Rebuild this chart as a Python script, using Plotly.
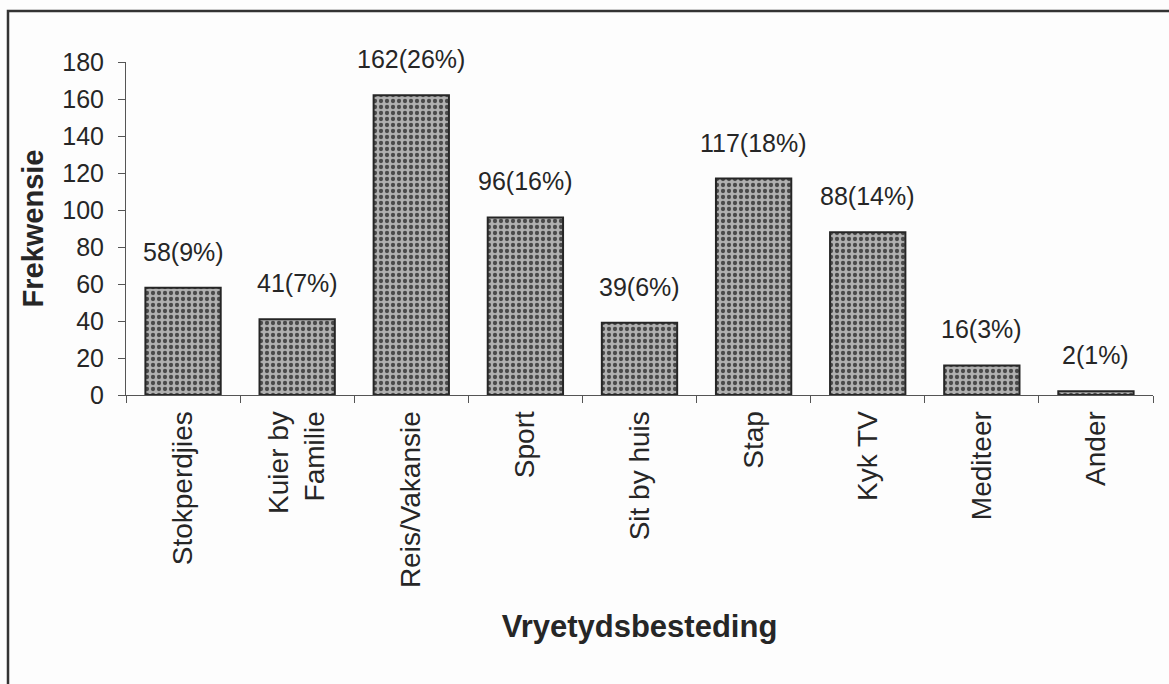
import plotly.graph_objects as go

categories = ["Stokperdjies", "Kuier by<br>Familie", "Reis/Vakansie", "Sport",
              "Sit by huis", "Stap", "Kyk TV", "Mediteer", "Ander"]
frequencies = [58, 41, 162, 96, 39, 117, 88, 16, 2]
percentages = [9, 7, 26, 16, 6, 18, 14, 3, 1]
y_ticks = [0, 20, 40, 60, 80, 100, 120, 140, 160, 180]

W, H = 1169, 684
L, R, T, B = 126, 16, 62, 289
FONT = "Liberation Sans, Arial, sans-serif"
INK = "#262626"

fig = go.Figure()
fig.add_trace(go.Bar(
    x=categories,
    y=frequencies,
    width=0.66,
    marker=dict(
        color="#a0a0a0",
        line=dict(color=INK, width=2),
        pattern=dict(shape=".", fgcolor="#4a4a4a", bgcolor="#b0b0b0",
                     size=6, solidity=0.4, fillmode="replace"),
    ),
    hoverinfo="skip",
))

for c, v, p in zip(categories, frequencies, percentages):
    fig.add_annotation(x=c, y=v, text=f"{v}({p}%)", showarrow=False,
                       yanchor="bottom", yshift=20,
                       font=dict(family=FONT, size=25, color=INK))

# Outer frame (left and top edges; the rest runs off the page)
pw, ph = W - L - R, H - T - B
x_left = (8 - L) / pw
y_top = (H - B - 11) / ph
y_bot = (H - B - (H + 20)) / ph
x_right = (W + 20 - L) / pw
fig.add_shape(type="rect", xref="paper", yref="paper",
              x0=x_left, x1=x_right, y0=y_bot, y1=y_top,
              line=dict(color="#333", width=2.5), layer="below")

fig.update_layout(
    width=W, height=H,
    margin=dict(l=L, r=R, t=T, b=B),
    paper_bgcolor="#fdfdfd",
    plot_bgcolor="rgba(0,0,0,0)",
    showlegend=False,
    font=dict(family=FONT, size=25, color=INK),
)
fig.update_xaxes(
    type="category",
    tickson="boundaries",
    ticks="outside", ticklen=7, tickcolor="#555", tickwidth=1,
    showline=True, linecolor="#555", linewidth=1,
    tickangle=-90, ticklabelstandoff=4,
    tickfont=dict(family=FONT, size=28, color=INK),
    title=dict(text="<b>Vryetydsbesteding</b>", standoff=28,
               font=dict(family=FONT, size=31, color=INK)),
    showgrid=False,
)
fig.update_yaxes(
    range=[0, 180],
    tickvals=y_ticks,
    ticks="outside", ticklen=7, tickcolor="#555", tickwidth=1,
    showline=True, linecolor="#555", linewidth=1,
    ticklabelstandoff=9,
    tickfont=dict(family=FONT, size=25, color=INK),
    title=dict(text="<b>Frekwensie</b>", standoff=10,
               font=dict(family=FONT, size=29, color=INK)),
    showgrid=False, zeroline=False,
)

fig.write_html("out.html")
